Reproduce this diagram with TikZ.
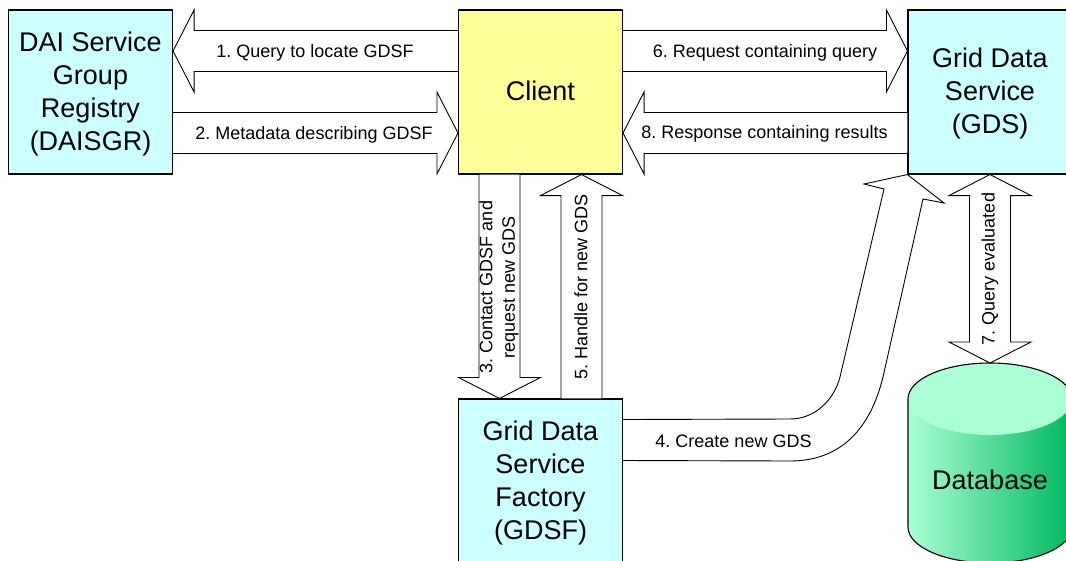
\documentclass[tikz,border=0pt]{standalone}
\usepackage{fontspec}
\setmainfont{Liberation Sans}
\usetikzlibrary{calc}
\frenchspacing
\definecolor{boxcyan}{HTML}{CCFFFF}
\definecolor{boxyellow}{HTML}{FFFF99}
\definecolor{dblight}{HTML}{AAFFD4}
\definecolor{dbdark}{HTML}{00B85F}
% single block arrow: tail, tip
\newcommand{\blockarrow}[2]{%
  \coordinate (n) at ($(#2)!21pt!(#1)$);
  \coordinate (tl) at ($(#1)!20.5pt!90:(#2)$);
  \coordinate (tr) at ($(#1)!20.5pt!-90:(#2)$);
  \coordinate (nl) at ($(n)!20.5pt!90:(#2)$);
  \coordinate (nr) at ($(n)!20.5pt!-90:(#2)$);
  \coordinate (hl) at ($(n)!41pt!90:(#2)$);
  \coordinate (hr) at ($(n)!41pt!-90:(#2)$);
  \draw[blockarrow] (tl) -- (nl) -- (hl) -- (#2) -- (hr) -- (nr) -- (tr);
}
% double block arrow: tip, tip
\newcommand{\doublearrow}[2]{%
  \coordinate (m) at ($(#1)!21pt!(#2)$);
  \coordinate (n) at ($(#2)!21pt!(#1)$);
  \coordinate (ml) at ($(m)!20.5pt!-90:(#1)$);
  \coordinate (mr) at ($(m)!20.5pt!90:(#1)$);
  \coordinate (mL) at ($(m)!41pt!-90:(#1)$);
  \coordinate (mR) at ($(m)!41pt!90:(#1)$);
  \coordinate (nl) at ($(n)!20.5pt!90:(#2)$);
  \coordinate (nr) at ($(n)!20.5pt!-90:(#2)$);
  \coordinate (nL) at ($(n)!41pt!90:(#2)$);
  \coordinate (nR) at ($(n)!41pt!-90:(#2)$);
  \draw[blockarrow] (#1) -- (mL) -- (ml) -- (nl) -- (nL) -- (#2) -- (nR) -- (nr) -- (mr) -- (mR) -- cycle;
}
\tikzset{
  blockarrow/.style={draw=black,line width=0.9pt,fill=white,line join=miter},
  service/.style={draw=black,line width=1.1pt,fill=boxcyan,minimum width=164pt,minimum height=164pt,inner sep=0pt},
  client/.style={service,fill=boxyellow},
  boxtext/.style={inner sep=0pt,align=center,font=\fontsize{27pt}{33pt}\selectfont},
  lab/.style={inner sep=0pt,align=center,font=\fontsize{18pt}{22.5pt}\selectfont},
}
\begin{document}
\begin{tikzpicture}[x=1pt,y=-1pt]
\useasboundingbox (0,0) rectangle (1066,560);
\clip (0,0) rectangle (1066,560);
% boxes
\node[service] (dai) at (90.5,92) {};
\node[client] (client) at (540.5,92) {};
\node[service] (gds) at (990,92) {};
\node[service] (gdsf) at (540.5,481) {};
\node[boxtext] (daitext) at ($(dai)+(0,2)$) {DAI Service\\Group\\Registry\\(DAISGR)};
\node[boxtext] (clienttext) at ($(client)+(0,-1.5)$) {Client};
\node[boxtext] (gdstext) at ($(gds)+(0,2)$) {Grid Data\\Service\\(GDS)};
\node[boxtext] (gdsftext) at ($(gdsf)+(0,2)$) {Grid Data\\Service\\Factory\\(GDSF)};
% database
\coordinate (dbtop) at (990,363);
\shade[left color=dblight,right color=dbdark] (908,399) -- (908,527) arc[start angle=180,end angle=360,x radius=82pt,y radius=36pt] -- (1072,399) arc[start angle=0,end angle=180,x radius=82pt,y radius=36pt] -- cycle;
\fill[dblight] (990,399) ellipse[x radius=82pt,y radius=36pt];
\draw[line width=1.1pt] (908,399) -- (908,527) arc[start angle=180,end angle=360,x radius=82pt,y radius=36pt] -- (1072,399) arc[start angle=0,end angle=180,x radius=82pt,y radius=36pt] -- cycle;
\node[boxtext] (db) at (990,480) {Database};
% horizontal arrows
\coordinate (a1) at ($(dai.east)+(0,-41)$);
\coordinate (c1) at ($(client.west)+(0,-41)$);
\blockarrow{c1}{a1}
\coordinate (a2) at ($(dai.east)+(0,41)$);
\coordinate (c2) at ($(client.west)+(0,41)$);
\blockarrow{a2}{c2}
\coordinate (c6) at ($(client.east)+(0,-41)$);
\coordinate (g6) at ($(gds.west)+(0,-41)$);
\blockarrow{c6}{g6}
\coordinate (c8) at ($(client.east)+(0,41)$);
\coordinate (g8) at ($(gds.west)+(0,41)$);
\blockarrow{g8}{c8}
% vertical arrows
\coordinate (c3) at ($(client.south)+(-41,0)$);
\coordinate (f3) at ($(gdsf.north)+(-41,0)$);
\blockarrow{c3}{f3}
\coordinate (c5) at ($(client.south)+(41,0)$);
\coordinate (f5) at ($(gdsf.north)+(41,0)$);
\blockarrow{f5}{c5}
\doublearrow{gds.south}{dbtop}
% arrow 4
\draw[blockarrow] ($(gdsf.east)+(0,-61.5)$) -- (790,419) .. controls (815,419) and (834,400) .. (840,377) -- (884,189) -- (864,184) -- (gds.south west) -- (944,203) -- (923,199) -- (883,377) .. controls (870,430) and (840,461) .. (790,461) -- ($(gdsf.east)+(0,-20.5)$);
% labels
\node[lab] (l1) at (315,52.5) {1. Query to locate GDSF};
\node[lab] (l2) at (314,134.5) {2. Metadata describing GDSF};
\node[lab] (l6) at (765,52.5) {6. Request containing query};
\node[lab] (l8) at (764.5,134) {8. Response containing results};
\node[lab,rotate=90] (l3) at (499,287) {3. Contact GDSF and\\request new GDS};
\node[lab,rotate=90] (l5) at (581,287) {5. Handle for new GDS};
\node[lab,rotate=90] (l7) at (990,269) {7. Query evaluated};
\node[lab] (l4) at (733.5,441) {4. Create new GDS};
\end{tikzpicture}
\end{document}
